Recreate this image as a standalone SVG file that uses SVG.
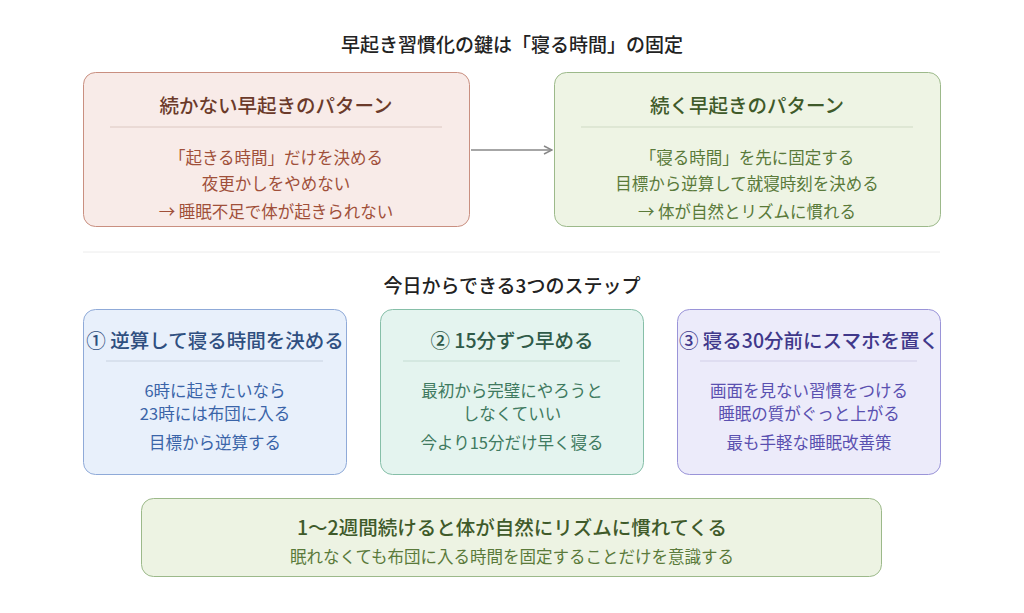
<svg xmlns="http://www.w3.org/2000/svg" width="1024" height="613" viewBox="0 0 1024 613">
<defs>
<style>
text{font-family:"Noto Sans CJK JP","Noto Sans",sans-serif;text-anchor:middle}
.h{font-size:19.5px;font-weight:500}
.t{font-size:16.5px}
</style>
<marker id="ar" viewBox="0 0 10 10" refX="9" refY="5" markerWidth="10" markerHeight="10" orient="auto" markerUnits="userSpaceOnUse"><path d="M1,1 L9,5 L1,9" fill="none" stroke="#888" stroke-width="1.5"/></marker>
</defs>
<rect width="1024" height="613" fill="#fff"/>
<text x="512" y="52" style="font-size:19px;font-weight:500" fill="#222">早起き習慣化の鍵は「寝る時間」の固定</text>
<g id="bad">
<rect x="83.5" y="72.5" width="386" height="154" rx="12" fill="#f8ebe8" stroke="#c98f80"/>
<text class="h" x="276" y="113" fill="#6b3a2a">続かない早起きのパターン</text>
<line x1="110" y1="127" x2="442" y2="127" stroke="#dcc8c2"/>
<text class="t" x="276" y="164" fill="#a0503a">「起きる時間」だけを決める</text>
<text class="t" x="276" y="190" fill="#a0503a">夜更かしをやめない</text>
<text class="t" x="276" y="218" fill="#a0503a">→ 睡眠不足で体が起きられない</text>
</g>
<g id="good">
<rect x="554.5" y="72.5" width="386" height="154" rx="12" fill="#eef4e4" stroke="#9cb98a"/>
<text class="h" x="747" y="113" fill="#3f5a2a">続く早起きのパターン</text>
<line x1="581" y1="127" x2="913" y2="127" stroke="#cfdac4"/>
<text class="t" x="747" y="164" fill="#5a7a3a">「寝る時間」を先に固定する</text>
<text class="t" x="747" y="190" fill="#5a7a3a">目標から逆算して就寝時刻を決める</text>
<text class="t" x="747" y="218" fill="#5a7a3a">→ 体が自然とリズムに慣れる</text>
</g>
<g id="connectors">
<line x1="471" y1="150" x2="552" y2="150" stroke="#888" stroke-width="1.5" marker-end="url(#ar)"/>
</g>
<line x1="83" y1="252" x2="940" y2="252" stroke="#ececec"/>
<text x="512" y="293" style="font-size:19px;font-weight:500" fill="#222">今日からできる3つのステップ</text>
<g id="step1">
<rect x="83.5" y="309.5" width="263" height="165" rx="12" fill="#e8f0fb" stroke="#8faad8"/>
<text class="h" x="215" y="348" fill="#2f4f80">① 逆算して寝る時間を決める</text>
<line x1="106" y1="361" x2="323" y2="361" stroke="#c8d2e0"/>
<text class="t" x="215" y="397" fill="#3a64a8">6時に起きたいなら</text>
<text class="t" x="215" y="420" fill="#3a64a8">23時には布団に入る</text>
<text class="t" x="215" y="449" fill="#3a64a8">目標から逆算する</text>
</g>
<g id="step2">
<rect x="380.5" y="309.5" width="263" height="165" rx="12" fill="#e4f4ef" stroke="#86bfa8"/>
<text class="h" x="512" y="348" fill="#2f5a48">② 15分ずつ早める</text>
<line x1="403" y1="361" x2="620" y2="361" stroke="#c4dcd2"/>
<text class="t" x="512" y="397" fill="#3f7a60">最初から完璧にやろうと</text>
<text class="t" x="512" y="420" fill="#3f7a60">しなくていい</text>
<text class="t" x="512" y="449" fill="#3f7a60">今より15分だけ早く寝る</text>
</g>
<g id="step3">
<rect x="677.5" y="309.5" width="263" height="165" rx="12" fill="#ecebfa" stroke="#9a94d8"/>
<text class="h" x="809" y="348" fill="#40388a">③ 寝る30分前にスマホを置く</text>
<line x1="700" y1="361" x2="917" y2="361" stroke="#d2cfe8"/>
<text class="t" x="809" y="397" fill="#5a50b0">画面を見ない習慣をつける</text>
<text class="t" x="809" y="420" fill="#5a50b0">睡眠の質がぐっと上がる</text>
<text class="t" x="809" y="449" fill="#5a50b0">最も手軽な睡眠改善策</text>
</g>
<g id="summary">
<rect x="141.5" y="498.5" width="740" height="78" rx="12" fill="#edf3e3" stroke="#9cb98a"/>
<text class="h" x="512" y="535" fill="#3f5a2a">1〜2週間続けると体が自然にリズムに慣れてくる</text>
<text class="t" x="512" y="563" fill="#5a7a3a">眠れなくても布団に入る時間を固定することだけを意識する</text>
</g>
</svg>
